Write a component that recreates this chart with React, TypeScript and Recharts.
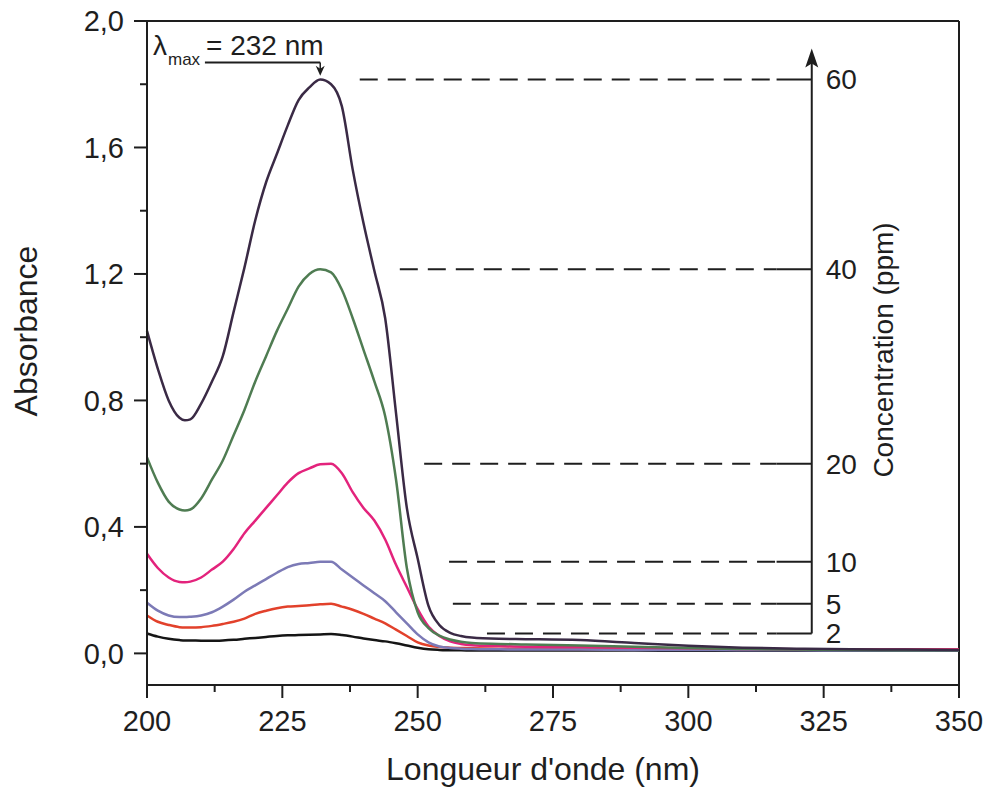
import { LineChart, Line, XAxis, YAxis, ReferenceLine, ReferenceDot, Customized } from "recharts";

// wavelength (nm) sampled along the spectra
const WAVELENGTH = [
  200, 202, 204, 206, 207, 208, 210, 212, 214, 216, 218, 220, 222, 224, 226, 228, 230, 232, 234, 236, 238,
  240, 242, 244, 246, 248, 250, 252, 254, 256, 258, 260, 265, 270, 280, 290, 300, 310, 320, 330, 340, 350,
];

// absorbance per concentration (ppm)
const ABS_60 = [
  1.02, 0.9, 0.8, 0.745, 0.737, 0.74, 0.79, 0.86, 0.94, 1.08, 1.22, 1.37, 1.49, 1.58, 1.67, 1.75, 1.79, 1.815, 1.8, 1.73, 1.53,
  1.36, 1.21, 1.06, 0.76, 0.46, 0.3, 0.15, 0.09, 0.065, 0.055, 0.05, 0.046, 0.045, 0.042, 0.033, 0.024, 0.018, 0.015, 0.013, 0.012, 0.011,
];
const ABS_40 = [
  0.62, 0.54, 0.48, 0.455, 0.452, 0.455, 0.49, 0.55, 0.61, 0.69, 0.77, 0.86, 0.94, 1.02, 1.09, 1.16, 1.2, 1.215, 1.205, 1.15, 1.06,
  0.96, 0.86, 0.75, 0.55, 0.27, 0.13, 0.08, 0.056, 0.044, 0.037, 0.033, 0.03, 0.028, 0.025, 0.021, 0.017, 0.014, 0.012, 0.011, 0.01, 0.01,
];
const ABS_20 = [
  0.315, 0.27, 0.24, 0.226, 0.225, 0.227, 0.24, 0.265, 0.29, 0.33, 0.38, 0.42, 0.46, 0.5, 0.54, 0.57, 0.585, 0.598, 0.6, 0.57, 0.51,
  0.46, 0.42, 0.36, 0.28, 0.21, 0.14, 0.085, 0.055, 0.038, 0.03, 0.026, 0.023, 0.021, 0.02, 0.018, 0.016, 0.014, 0.013, 0.012, 0.012, 0.012,
];
const ABS_10 = [
  0.16, 0.135, 0.12, 0.115, 0.115, 0.116, 0.12, 0.13, 0.148, 0.17, 0.195, 0.215, 0.235, 0.255, 0.273, 0.283, 0.286, 0.29, 0.29, 0.265, 0.24,
  0.215, 0.19, 0.165, 0.13, 0.095, 0.06, 0.035, 0.022, 0.017, 0.015, 0.014, 0.013, 0.012, 0.012, 0.011, 0.011, 0.01, 0.01, 0.009, 0.009, 0.009,
];
const ABS_5 = [
  0.12, 0.1, 0.09, 0.083, 0.082, 0.082, 0.083, 0.087, 0.093, 0.1, 0.11, 0.125, 0.135, 0.143, 0.148, 0.15, 0.152, 0.155, 0.157, 0.148, 0.138,
  0.125, 0.11, 0.095, 0.075, 0.055, 0.035, 0.025, 0.02, 0.018, 0.017, 0.016, 0.015, 0.015, 0.014, 0.013, 0.013, 0.012, 0.012, 0.012, 0.012, 0.012,
];
const ABS_2 = [
  0.063, 0.053, 0.046, 0.042, 0.041, 0.041, 0.04, 0.04, 0.041, 0.043, 0.046, 0.049, 0.052, 0.055, 0.057, 0.058, 0.059, 0.06, 0.061, 0.058, 0.053,
  0.047, 0.042, 0.038, 0.032, 0.025, 0.018, 0.013, 0.011, 0.01, 0.01, 0.009, 0.009, 0.009, 0.009, 0.009, 0.008, 0.008, 0.008, 0.008, 0.008, 0.008,
];

const X_TICKS = [200, 212.5, 225, 237.5, 250, 262.5, 275, 287.5, 300, 312.5, 325, 337.5, 350];
const X_MAJOR = [200, 225, 250, 275, 300, 325, 350];
const Y_TICKS = [0, 0.2, 0.4, 0.6, 0.8, 1.0, 1.2, 1.4, 1.6, 1.8, 2.0];
const Y_MAJOR = [0, 0.4, 0.8, 1.2, 1.6, 2.0];

const LAMBDA_MAX = 232;

// layout
const W = 989;
const H = 794;
const PLOT_LEFT = 147;
const PLOT_BOTTOM = 685;
const INK = "#1e1e1e";
const FONT = '"Liberation Sans", Arial, sans-serif';

// concentration scale drawn inside the plot (x position in nm, guide starts in nm)
const CONC_AXIS_NM = 322.8;
const CONC_AXIS_TOP = 1.913;
const GUIDE_END_NM = 316.3;

const SERIES = [
  { key: "c2", ppm: 2, values: ABS_2, color: "#151515", guideStart: 262.8 },
  { key: "c5", ppm: 5, values: ABS_5, color: "#e2412b", guideStart: 256.5 },
  { key: "c10", ppm: 10, values: ABS_10, color: "#7c7ab6", guideStart: 255.8 },
  { key: "c20", ppm: 20, values: ABS_20, color: "#e3237c", guideStart: 251.2 },
  { key: "c40", ppm: 40, values: ABS_40, color: "#4f7c52", guideStart: 246.7 },
  { key: "c60", ppm: 60, values: ABS_60, color: "#3a2a45", guideStart: 239.3 },
];

const data = WAVELENGTH.map((w, i) => {
  const row: Record<string, number> = { w };
  SERIES.forEach((s) => (row[s.key] = s.values[i]));
  return row;
});

const peakOf = (values: number[]) => Math.max(...values);
const lowestPeak = peakOf(ABS_2);
const lambdaPeak = peakOf(ABS_60);

function XTick(props: any) {
  const { x, payload } = props;
  const major = X_MAJOR.includes(payload.value);
  return (
    <g>
      <line x1={x} x2={x} y1={PLOT_BOTTOM} y2={PLOT_BOTTOM + (major ? 13 : 7)} stroke={INK} strokeWidth={2} />
      {major && (
        <text x={x} y={PLOT_BOTTOM + 46} textAnchor="middle" fontSize={29} fill={INK}>
          {payload.value}
        </text>
      )}
    </g>
  );
}

function YTick(props: any) {
  const { y, payload } = props;
  const major = Y_MAJOR.some((m) => Math.abs(m - payload.value) < 1e-6);
  return (
    <g>
      <line x1={PLOT_LEFT - (major ? 13 : 7)} x2={PLOT_LEFT} y1={y} y2={y} stroke={INK} strokeWidth={2} />
      {major && (
        <text x={PLOT_LEFT - 23} y={y} dy="0.355em" textAnchor="end" fontSize={29} fill={INK}>
          {payload.value.toFixed(1).replace(".", ",")}
        </text>
      )}
    </g>
  );
}

function Titles() {
  return (
    <g fill={INK}>
      <text x={543} y={780} textAnchor="middle" fontSize={32}>
        Longueur d'onde (nm)
      </text>
      <text transform="translate(37,331) rotate(-90)" textAnchor="middle" fontSize={32}>
        Absorbance
      </text>
      <text transform="translate(893,350) rotate(-90)" textAnchor="middle" fontSize={28}>
        Concentration (ppm)
      </text>
      <text x={153} y={55} fontSize={28}>λ</text>
      <text x={168} y={65} fontSize={17}>max</text>
      <text x={206} y={55} fontSize={28}>= 232 nm</text>
    </g>
  );
}

export default function App() {
  return (
    <div style={{ position: "absolute", left: 0, top: 0, width: W, height: H, background: "#fff", fontFamily: FONT }}>
      <LineChart width={W} height={H} data={data} margin={{ top: 21, right: 30, bottom: 0, left: 0 }}>
        <XAxis
          dataKey="w"
          type="number"
          domain={[200, 350]}
          ticks={X_TICKS}
          interval={0}
          tick={<XTick />}
          tickLine={false}
          axisLine={{ stroke: INK, strokeWidth: 2 }}
          height={H - PLOT_BOTTOM}
        />
        <YAxis
          type="number"
          domain={[-0.1, 2.0]}
          ticks={Y_TICKS}
          interval={0}
          tick={<YTick />}
          tickLine={false}
          axisLine={{ stroke: INK, strokeWidth: 2 }}
          width={PLOT_LEFT}
          allowDataOverflow
        />
        <ReferenceLine y={2.0} stroke={INK} strokeWidth={2} />
        <ReferenceLine x={350} stroke={INK} strokeWidth={2} />

        {SERIES.map((s) => {
          const level = peakOf(s.values);
          return [
            <ReferenceLine
              key={s.key + "-dash"}
              segment={[{ x: s.guideStart, y: level }, { x: GUIDE_END_NM, y: level }]}
              stroke={INK}
              strokeWidth={2}
              strokeDasharray="18 10"
            />,
            <ReferenceLine
              key={s.key + "-solid"}
              segment={[{ x: GUIDE_END_NM, y: level }, { x: CONC_AXIS_NM, y: level }]}
              stroke={INK}
              strokeWidth={2}
            />,
            <ReferenceDot
              key={s.key + "-label"}
              x={CONC_AXIS_NM}
              y={level}
              r={0}
              shape={(p: any) => (
                <text x={p.cx + 14} y={p.cy} dy="0.355em" fontSize={28} fill={INK}>
                  {s.ppm}
                </text>
              )}
            />,
          ];
        })}

        <ReferenceLine
          segment={[{ x: CONC_AXIS_NM, y: lowestPeak }, { x: CONC_AXIS_NM, y: CONC_AXIS_TOP - 0.03 }]}
          stroke={INK}
          strokeWidth={2}
        />
        <ReferenceDot
          x={CONC_AXIS_NM}
          y={CONC_AXIS_TOP}
          r={0}
          shape={(p: any) => (
            <path
              d={`M${p.cx},${p.cy} L${p.cx + 6.5},${p.cy + 19} L${p.cx},${p.cy + 15} L${p.cx - 6.5},${p.cy + 19} Z`}
              fill={INK}
            />
          )}
        />

        <ReferenceLine
          segment={[{ x: 210.7, y: 1.869 }, { x: LAMBDA_MAX, y: 1.869 }]}
          stroke={INK}
          strokeWidth={2}
        />
        <ReferenceLine
          segment={[{ x: LAMBDA_MAX, y: 1.869 }, { x: LAMBDA_MAX, y: lambdaPeak + 0.025 }]}
          stroke={INK}
          strokeWidth={1.5}
        />
        <ReferenceDot
          x={LAMBDA_MAX}
          y={lambdaPeak + 0.012}
          r={0}
          shape={(p: any) => (
            <path
              d={`M${p.cx},${p.cy} L${p.cx - 4.5},${p.cy - 10} L${p.cx},${p.cy - 7} L${p.cx + 4.5},${p.cy - 10} Z`}
              fill={INK}
            />
          )}
        />

        {SERIES.map((s) => (
          <Line
            key={s.key}
            dataKey={s.key}
            type="monotone"
            stroke={s.color}
            strokeWidth={2.5}
            dot={false}
            isAnimationActive={false}
          />
        ))}

        <Customized component={Titles} />
      </LineChart>
    </div>
  );
}
